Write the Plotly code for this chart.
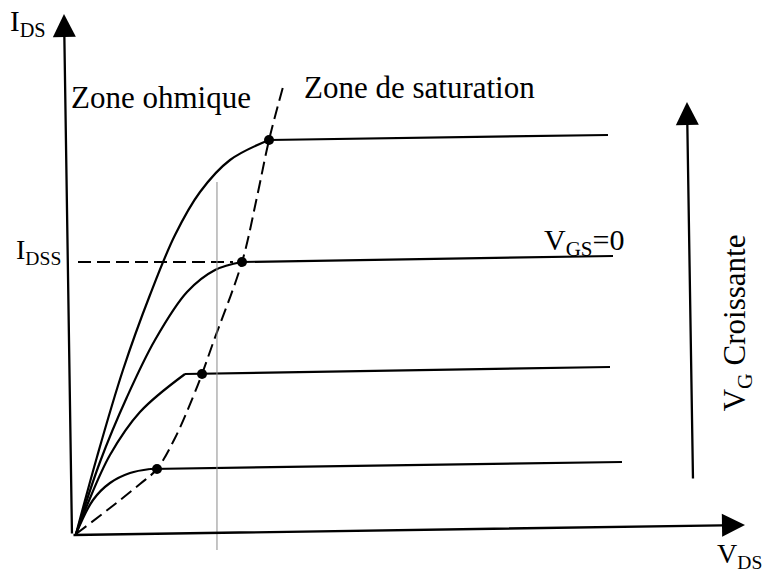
import plotly.graph_objects as go

# JFET output characteristics: I_DS versus V_DS, one curve per gate voltage
# (ordered from the lowest to the highest V_GS; the third one is V_GS = 0)
ohmic_vds = [
    [0, 0.254, 0.507, 0.806, 1.104],
    [0, 0.179, 0.507, 0.955, 1.627],
    [0, 0.358, 0.761, 1.179, 1.657, 2.075, 2.478],
    [0, 0.313, 0.701, 1.104, 1.478, 1.851, 2.299, 2.881],
]
ohmic_ids = [
    [0, 0.68, 1.02, 1.22, 1.30],
    [0, 0.62, 1.58, 2.44, 3.20],
    [0, 1.44, 2.74, 3.88, 4.84, 5.28, 5.44],
    [0, 1.54, 3.28, 4.78, 5.98, 6.84, 7.48, 7.88],
]
# pinch-off points (start of the saturation region)
knee_vds = [1.209, 1.881, 2.478, 2.881]
knee_ids = [1.30, 3.20, 5.44, 7.88]
# end of each saturation plateau
plateau_end_vds = [8.149, 7.970, 8.015, 7.940]
plateau_end_ids = [1.44, 3.34, 5.56, 7.98]

# boundary between the ohmic and saturation zones
boundary_vds = [0, 0.507, 0.955, 1.209, 1.478, 1.746, 1.881, 2.045,
                2.478, 2.701, 2.881, 3.090]
boundary_ids = [0, 0.52, 1.00, 1.30, 1.92, 2.74, 3.20, 3.82,
                5.44, 6.74, 7.88, 8.94]

idss = knee_ids[2]
vds_marker = 2.104

FONT = "Liberation Serif, Times New Roman, DejaVu Serif, serif"
BLACK = "black"
DASH = "13px,6px"

fig = go.Figure()

for vx, iy, ex, ey in zip(ohmic_vds, ohmic_ids,
                          plateau_end_vds, plateau_end_ids):
    fig.add_trace(go.Scatter(x=vx, y=iy, mode="lines",
                             line=dict(color=BLACK, width=2.2, shape="spline",
                                       smoothing=1.0),
                             hoverinfo="skip"))
    fig.add_trace(go.Scatter(x=[vx[-1], ex], y=[iy[-1], ey], mode="lines",
                             line=dict(color=BLACK, width=2.2),
                             hoverinfo="skip"))

fig.add_trace(go.Scatter(x=boundary_vds, y=boundary_ids, mode="lines",
                         line=dict(color=BLACK, width=2, dash=DASH,
                                   shape="spline", smoothing=1.0),
                         hoverinfo="skip"))

fig.add_trace(go.Scatter(x=knee_vds, y=knee_ids, mode="markers",
                         marker=dict(color=BLACK, size=10),
                         hoverinfo="skip"))

# I_DSS reference line
fig.add_trace(go.Scatter(x=[0.03, 2.343], y=[idss, idss],
                         mode="lines",
                         line=dict(color=BLACK, width=2, dash=DASH),
                         hoverinfo="skip"))

# thin vertical guide
fig.add_trace(go.Scatter(x=[vds_marker, vds_marker], y=[7.04, -0.32],
                         mode="lines",
                         line=dict(color="#8a8a8a", width=1),
                         hoverinfo="skip"))

# axes and the "increasing V_G" arrow, drawn as arrows
arrows = [
    dict(x=9.985, y=0.18, ax=-0.06, ay=-0.02),      # V_DS axis
    dict(x=-0.179, y=10.40, ax=-0.06, ay=-0.02),    # I_DS axis
    dict(x=9.119, y=8.64, ax=9.209, ay=1.08),       # V_G increasing
]
for a in arrows:
    fig.add_annotation(x=a["x"], y=a["y"], ax=a["ax"], ay=a["ay"],
                       xref="x", yref="y", axref="x", ayref="y",
                       text="", showarrow=True, arrowhead=2,
                       arrowsize=2, arrowwidth=2.3, arrowcolor=BLACK)

labels = [
    dict(x=-0.72, y=10.22, text="I<sub>DS</sub>", xanchor="center", size=29),
    dict(x=-0.19, y=5.66, text="I<sub>DSS</sub>", xanchor="right", size=28),
    dict(x=-0.10, y=8.74, text="Zone ohmique", xanchor="left", size=31),
    dict(x=3.37, y=8.94, text="Zone de saturation", xanchor="left", size=31),
    dict(x=6.95, y=5.84, text="V<sub>GS</sub>=0", xanchor="left", size=30),
    dict(x=9.54, y=-0.42, text="V<sub>DS</sub>", xanchor="left", size=28),
]
for lb in labels:
    fig.add_annotation(x=lb["x"], y=lb["y"], xref="x", yref="y",
                       text=lb["text"], showarrow=False,
                       xanchor=lb["xanchor"], yanchor="middle",
                       font=dict(family=FONT, size=lb["size"], color=BLACK))

fig.add_annotation(x=9.87, y=4.22, xref="x", yref="y",
                   text="V<sub>G</sub> Croissante", showarrow=False,
                   textangle=-90, xanchor="center", yanchor="middle",
                   font=dict(family=FONT, size=31, color=BLACK))

fig.update_layout(
    width=765, height=574,
    margin=dict(l=0, r=0, t=0, b=0),
    paper_bgcolor="white", plot_bgcolor="white",
    showlegend=False,
    xaxis=dict(range=[-1.1343, 10.2836], visible=False, fixedrange=True),
    yaxis=dict(range=[-0.80, 10.68], visible=False, fixedrange=True),
)

fig.write_html("out.html")
